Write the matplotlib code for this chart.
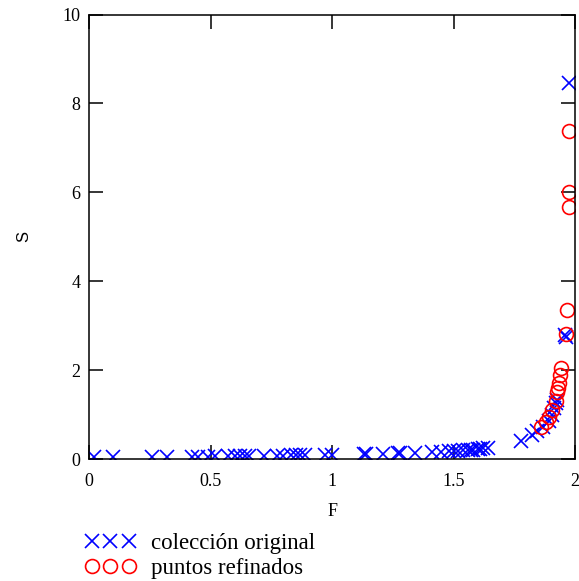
import matplotlib
matplotlib.use("Agg")
import matplotlib.pyplot as plt

# coleccion original (F, S)
F_orig = [0.02, 0.10, 0.26, 0.32, 0.425, 0.45, 0.49, 0.52, 0.57, 0.60,
          0.62, 0.64, 0.66, 0.72, 0.775, 0.80, 0.83, 0.85, 0.87, 0.89,
          0.97, 1.00, 1.13, 1.14, 1.21, 1.27, 1.28, 1.34, 1.41, 1.45,
          1.48, 1.50, 1.52, 1.54, 1.56, 1.57, 1.58, 1.60, 1.61, 1.62,
          1.64, 1.776, 1.824, 1.845, 1.87, 1.893, 1.905, 1.915, 1.92, 1.925,
          1.96, 1.962, 1.975]
S_orig = [0.04, 0.04, 0.045, 0.05, 0.05, 0.055, 0.055, 0.06, 0.06, 0.06,
          0.065, 0.065, 0.065, 0.07, 0.07, 0.075, 0.08, 0.08, 0.08, 0.085,
          0.09, 0.09, 0.11, 0.11, 0.12, 0.13, 0.13, 0.14, 0.15, 0.16,
          0.17, 0.18, 0.19, 0.20, 0.20, 0.21, 0.21, 0.22, 0.23, 0.24,
          0.25, 0.41, 0.55, 0.62, 0.72, 0.86, 1.0, 1.15, 1.27, 1.32,
          2.8, 2.75, 8.45]

# puntos refinados (F, S)
F_ref = [1.859, 1.879, 1.893, 1.906, 1.92, 1.927, 1.932, 1.934, 1.94, 1.944,
         1.961, 1.968, 1.975, 1.975, 1.975]
S_ref = [0.73, 0.84, 0.95, 1.10, 1.30, 1.51, 1.59, 1.70, 1.89, 2.04,
         2.82, 3.35, 5.68, 6.0, 7.39]

xticks = [0, 0.5, 1, 1.5, 2]
xtick_labels = ["0", "0.5", "1", "1.5", "2"]
yticks = [0, 2, 4, 6, 8, 10]

serif = "Liberation Serif"

fig = plt.figure(figsize=(5.79, 5.81), dpi=100)
ax = fig.add_axes([89 / 579, 1 - 459 / 581, 486 / 579, 444.5 / 581])

ax.plot(F_orig, S_orig, linestyle="none", marker="x", markersize=10.5,
        markeredgewidth=1.2, color="#0000ff", label="colección original")
ax.plot(F_ref, S_ref, linestyle="none", marker="o", markersize=10,
        markeredgewidth=1.2, markerfacecolor="none", markeredgecolor="#ff0000",
        label="puntos refinados")

ax.set_xlim(0, 2)
ax.set_ylim(0, 10)
ax.set_xticks(xticks)
ax.set_xticklabels(xtick_labels)
ax.set_yticks(yticks)
ax.tick_params(direction="in", length=10, width=1.1, top=True, right=True,
               labelsize=13)
ax.tick_params(axis="x", pad=10)
ax.tick_params(axis="y", pad=6)
for lab in ax.get_xticklabels() + ax.get_yticklabels():
    lab.set_fontfamily(serif)
for sp in ax.spines.values():
    sp.set_linewidth(1.1)

ax.set_xlabel("F", fontfamily=serif, fontsize=13)
ax.xaxis.set_label_coords(244 / 486, -44 / 444.5)
ax.set_ylabel("S", fontfamily="Liberation Sans", fontsize=12)
ax.yaxis.set_label_coords(-58 / 486, 0.5)

# legend below the axes, three markers per entry
fig.legend(loc="upper left", bbox_to_anchor=(85 / 579, 1 - 533 / 581),
           frameon=False, numpoints=3, handlelength=2.2, handletextpad=0.68,
           labelspacing=0.18, borderaxespad=0, borderpad=0,
           prop={"family": serif, "size": 16.5})

fig.savefig("out.png", dpi=100)
